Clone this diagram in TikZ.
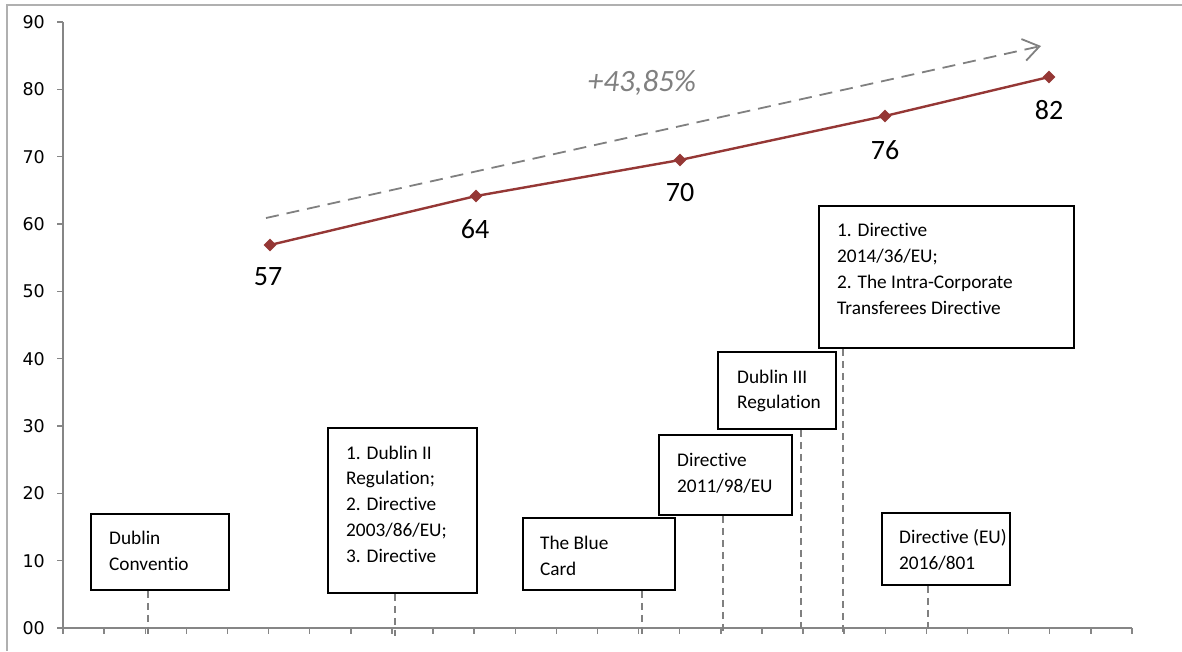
\documentclass[tikz,border=0pt]{standalone}
\usepackage{fontspec}
\setmainfont{Carlito}[Ligatures=NoCommon]
\newfontfamily\axisfont{DejaVu Sans}
\usetikzlibrary{arrows.meta,shapes.geometric}
\definecolor{axisgray}{RGB}{134,134,134}
\definecolor{framegray}{RGB}{176,176,176}
\definecolor{dashgray}{RGB}{128,128,128}
\definecolor{datared}{RGB}{149,55,53}
\tikzset{
 box/.style={draw=black, fill=white, line width=1.6pt, inner sep=0pt},
 boxtext/.style={inner sep=0pt, align=left, anchor=west, font=\fontsize{19.3}{25.8}\selectfont},
 vline/.style={draw=dashgray, line width=1.6pt, dash pattern=on 7pt off 5pt},
 ax/.style={draw=axisgray, line width=1.4pt},
 ylab/.style={font=\axisfont\fontsize{17.5}{17.5}\selectfont, anchor=east, inner sep=0pt},
 vlab/.style={font=\fontsize{28}{28}\selectfont, inner sep=0pt},
 datapt/.style={diamond, fill=datared, minimum size=13pt, inner sep=0pt},
}
\begin{document}
\begin{tikzpicture}[x=1pt,y=-1pt]
\useasboundingbox (0,0) rectangle (1182,651);
% frame
\draw[framegray, line width=1.5pt] (7,651) -- (7,5) -- (1182,5);
% axes
\coordinate (o) at (63,628);
\coordinate (ytop) at (63,22);
\coordinate (xend) at (1132,628);
\draw[ax] (ytop) -- (o) -- (xend);
\foreach \v [count=\i from 0] in {00,10,20,30,40,50,60,70,80,90} {
  \draw[ax] (57,628-\i*67.33) -- (63,628-\i*67.33);
  \node[ylab] (y\i) at (45,628-\i*67.33) {\v};
}
\foreach \k in {0,...,26} {
  \draw[ax] (63+\k*41.115,628) -- (63+\k*41.115,634);
}
% trend arrow
\coordinate (ts) at (266,218);
\coordinate (te) at (1041,46);
\draw[dashgray, line width=1.8pt, dash pattern=on 13pt off 8pt, -{Straight Barb[length=16pt,width=22pt,line width=1.8pt]}] (ts) -- (te);
\node[font=\itshape\fontsize{31}{31}\selectfont, text=dashgray, inner sep=0pt] (pct) at (642,83) {+43,85\%};
% data
\node[datapt] (p1) at (270,245) {};
\node[datapt] (p2) at (476,196) {};
\node[datapt] (p3) at (680,160) {};
\node[datapt] (p4) at (885,116) {};
\node[datapt] (p5) at (1049,77) {};
\draw[datared, line width=2.4pt] (p1.center) -- (p2.center) -- (p3.center) -- (p4.center) -- (p5.center);
\node[vlab] (l1) at (268,277) {57};
\node[vlab] (l2) at (475,229) {64};
\node[vlab] (l3) at (680,193) {70};
\node[vlab] (l4) at (885,150) {76};
\node[vlab] (l5) at (1049,110) {82};
% axis anchor coordinates for dashed lines
\coordinate (a1) at (148,634);
\coordinate (a2) at (395,636);
\coordinate (a3) at (642,635);
\coordinate (a4) at (723,632);
\coordinate (a5) at (801,632);
\coordinate (a6) at (843,632);
\coordinate (a7) at (928,632);
% boxes
\node[box, minimum width=138pt, minimum height=76pt] (b1) at (160,552) {};
\node[box, minimum width=149pt, minimum height=165pt] (b2) at (402.5,510.5) {};
\node[box, minimum width=152pt, minimum height=72pt] (b3) at (599,554) {};
\node[box, minimum width=133pt, minimum height=80pt] (b4) at (725.5,475) {};
\node[box, minimum width=118pt, minimum height=77pt] (b5) at (777,390.5) {};
\node[box, minimum width=255pt, minimum height=142pt] (b6) at (946.5,277) {};
\node[box, minimum width=128pt, minimum height=72pt] (b7) at (946,549) {};
\node[boxtext] (t1) at (109,551) {Dublin\\Conventio};
\node[boxtext] (t2) at (346,504) {1. Dublin II\\Regulation;\\2. Directive\\2003/86/EU;\\3. Directive};
\node[boxtext] (t3) at (540,556) {The Blue\\Card};
\node[boxtext] (t4) at (677,473) {Directive\\2011/98/EU};
\node[boxtext] (t5) at (737,391) {Dublin III\\Regulation};
\node[boxtext] (t6) at (837,269) {1. Directive\\2014/36/EU;\\2. The Intra-Corporate\\Transferees Directive};
\node[boxtext] (t7) at (899,550) {Directive (EU)\\2016/801};
% dashed connectors
\draw[vline] (b1.south -| a1) -- (a1);
\draw[vline] (b2.south -| a2) -- (a2);
\draw[vline] (b3.south -| a3) -- (a3);
\draw[vline] (b4.south -| a4) -- (a4);
\draw[vline] (b5.south -| a5) -- (a5);
\draw[vline] (b6.south -| a6) -- (a6);
\draw[vline] (b7.south -| a7) -- (a7);
\end{tikzpicture}
\end{document}
